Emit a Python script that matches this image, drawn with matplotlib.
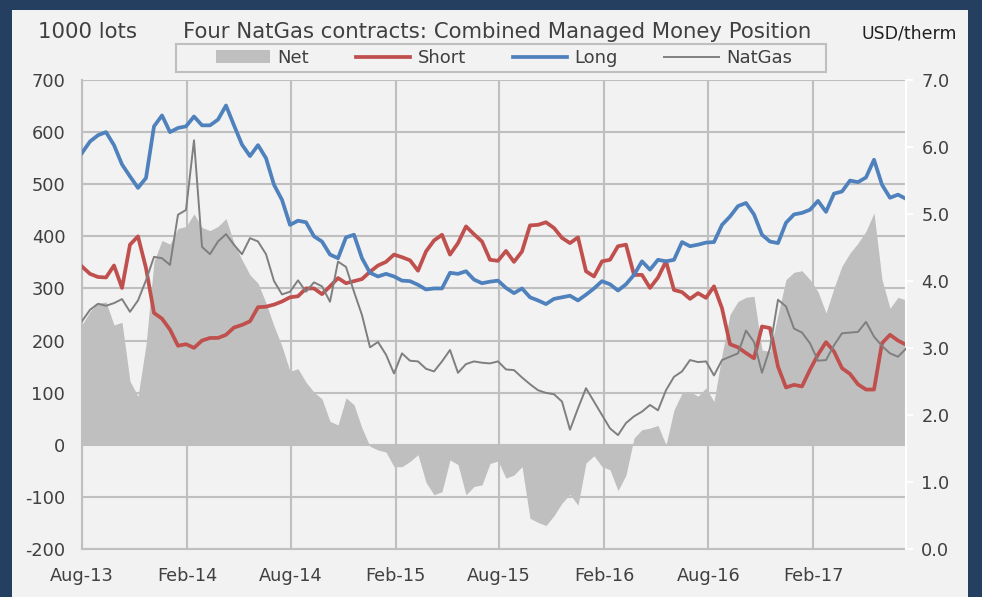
import matplotlib
matplotlib.use('Agg')
import matplotlib.pyplot as plt
import matplotlib.dates as mdates
import matplotlib.ticker as mticker
from matplotlib.patches import Rectangle, Patch
from matplotlib.lines import Line2D
import pandas as pd

plt.rcParams['font.family'] = ['DejaVu Sans']
plt.rcParams['axes.unicode_minus'] = False

# ---- data (1000 lots, USD/therm), fortnightly from Aug-2013 ----
long_pos = [560, 582, 594, 600, 575, 538, 515, 493, 512, 611, 632, 600, 608, 611, 630, 613,
            613, 624, 651, 613, 576, 554, 575, 550, 499, 470, 422, 430, 427, 400, 390, 365,
            358, 398, 403, 358, 330, 323, 328, 323, 315, 314, 307, 298, 300, 300, 330, 328,
            333, 317, 310, 313, 315, 301, 291, 300, 283, 277, 270, 280, 283, 286, 277, 288,
            300, 314, 308, 296, 308, 326, 352, 336, 355, 352, 355, 389, 381, 384, 388, 389,
            422, 438, 458, 464, 442, 403, 390, 387, 426, 442, 445, 451, 468, 447, 482, 486,
            507, 504, 513, 547, 499, 474, 480, 472]
short_pos = [342, 328, 322, 321, 344, 301, 384, 400, 339, 253, 242, 221, 190, 193, 186, 200,
             205, 205, 211, 225, 230, 237, 264, 265, 269, 275, 283, 285, 300, 300, 289, 304,
             320, 310, 314, 318, 332, 344, 351, 365, 360, 354, 334, 371, 392, 403, 365, 387,
             419, 404, 390, 355, 353, 372, 351, 371, 421, 422, 427, 416, 397, 387, 398, 333,
             323, 352, 355, 381, 384, 326, 326, 301, 321, 352, 297, 293, 280, 291, 282, 304,
             262, 193, 187, 176, 166, 227, 224, 150, 110, 115, 112, 144, 173, 197, 179, 147,
             136, 116, 106, 106, 195, 211, 200, 192]
net_pos = [230, 256, 272, 274, 230, 235, 122, 93, 192, 352, 392, 385, 415, 419, 443, 417,
           411, 419, 434, 387, 355, 326, 310, 272, 228, 189, 141, 146, 120, 101, 88, 45,
           38, 90, 77, 32, -3, -10, -14, -42, -42, -32, -19, -72, -96, -90, -29, -38,
           -96, -80, -77, -36, -31, -64, -58, -42, -141, -149, -155, -136, -112, -95, -116, -35,
           -21, -42, -48, -88, -58, 13, 29, 32, 37, 0, 67, 99, 102, 93, 109, 83,
           173, 250, 275, 283, 285, 182, 179, 250, 317, 331, 334, 317, 294, 253, 301, 343,
           368, 387, 410, 445, 317, 262, 283, 278]
natgas = [3.40, 3.57, 3.66, 3.63, 3.67, 3.73, 3.54, 3.71, 4.01, 4.36, 4.34, 4.24, 4.99, 5.06, 6.10, 4.51,
          4.40, 4.59, 4.70, 4.54, 4.40, 4.64, 4.59, 4.40, 4.00, 3.80, 3.84, 4.01, 3.84, 3.98, 3.92, 3.69,
          4.29, 4.21, 3.84, 3.49, 3.01, 3.09, 2.90, 2.62, 2.92, 2.81, 2.80, 2.69, 2.65, 2.80, 2.97, 2.63,
          2.76, 2.80, 2.78, 2.77, 2.80, 2.68, 2.67, 2.56, 2.46, 2.37, 2.33, 2.31, 2.20, 1.78, 2.10, 2.40,
          2.20, 2.00, 1.80, 1.70, 1.88, 1.98, 2.05, 2.15, 2.07, 2.37, 2.57, 2.65, 2.82, 2.79, 2.80, 2.59,
          2.82, 2.87, 2.92, 3.26, 3.09, 2.63, 3.00, 3.72, 3.62, 3.29, 3.23, 3.07, 2.81, 2.82, 3.04, 3.22,
          3.23, 3.24, 3.39, 3.17, 3.03, 2.92, 2.87, 2.99]
dates = pd.date_range('2013-08-01', periods=len(long_pos), freq='14D')

left_ticks = list(range(-200, 701, 100))
right_ticks = [0, 1, 2, 3, 4, 5, 6, 7]

title = 'Four NatGas contracts: Combined Managed Money Position'
left_unit = '1000 lots'
right_unit = 'USD/therm'
series_names = ['Net', 'Short', 'Long', 'NatGas']

NAVY = '#243F60'
PANEL = '#F2F2F2'
GRID = '#BFBFBF'
TXT = '#404040'
C_LONG = '#4F81BD'
C_SHORT = '#C0504D'
C_NET = '#BFBFBF'
C_GAS = '#7F7F7F'

W, H = 982, 597
fig = plt.figure(figsize=(W / 100, H / 100), dpi=100, facecolor=NAVY)
fig.add_artist(Rectangle((12 / W, 0), (968 - 12) / W, (H - 10) / H, transform=fig.transFigure,
                         facecolor=PANEL, edgecolor='none', zorder=-5))

ax = fig.add_axes([82 / W, 1 - 549 / H, (906 - 82) / W, (549 - 80) / H])
ax.set_facecolor(PANEL)
ax.fill_between(dates, 0, net_pos, color=C_NET, lw=0, zorder=2)
ax.plot(dates, short_pos, color=C_SHORT, lw=2.7, zorder=4, solid_joinstyle='round')
ax.plot(dates, long_pos, color=C_LONG, lw=2.7, zorder=4, solid_joinstyle='round')
ax.set_xlim(dates[0], dates[-1])
ax.set_ylim(-200, 700)
ax.set_yticks(left_ticks)
ax.xaxis.set_major_locator(mdates.MonthLocator(bymonth=[2, 8]))
ax.xaxis.set_major_formatter(mdates.DateFormatter('%b-%y'))
ax.set_axisbelow(True)
ax.grid(True, color=GRID, lw=1.5)
for s in ['top', 'right']:
    ax.spines[s].set_visible(False)
for s in ['left', 'bottom']:
    ax.spines[s].set_color(GRID)
    ax.spines[s].set_linewidth(1.5)
ax.tick_params(axis='both', length=0, labelsize=12.8, labelcolor=TXT)
ax.tick_params(axis='y', pad=12)
ax.tick_params(axis='x', pad=13)

ax2 = ax.twinx()
ax2.plot(dates, natgas, color=C_GAS, lw=1.4, zorder=5)
ax2.set_ylim(0, 7)
ax2.set_yticks(right_ticks)
ax2.yaxis.set_major_formatter(mticker.FormatStrFormatter('%.1f'))
for s in ['top', 'left', 'bottom']:
    ax2.spines[s].set_visible(False)
ax2.spines['right'].set_color('white')
ax2.spines['right'].set_linewidth(1.5)
ax2.tick_params(axis='y', direction='out', length=5, width=1.5, color='white',
                labelsize=12.8, labelcolor=TXT, pad=6)
ax2.patch.set_visible(False)

fig.text(38 / W, 1 - 32 / H, left_unit, fontsize=15.3, color=TXT, ha='left', va='center')
fig.text(497 / W, 1 - 32 / H, title, fontsize=15.3, color=TXT, ha='center', va='center')
fig.text(957 / W, 1 - 33 / H, right_unit, fontsize=12.5, color='#202020', ha='right', va='center')

# legend
fig.add_artist(Rectangle((176 / W, 1 - 72 / H), (826 - 176) / W, 28 / H, transform=fig.transFigure,
                         facecolor=PANEL, edgecolor=GRID, lw=1.5, zorder=1))
handles = [Patch(facecolor=C_NET, edgecolor='none'),
           Line2D([], [], color=C_SHORT, lw=2.7),
           Line2D([], [], color=C_LONG, lw=2.7),
           Line2D([], [], color=C_GAS, lw=1.4)]
leg = fig.legend(handles, series_names, loc='center', bbox_to_anchor=(504 / W, 1 - 58 / H),
                 ncol=4, frameon=False, fontsize=13, handlelength=3.0, handletextpad=0.4,
                 columnspacing=2.6, labelcolor=TXT)
leg.set_zorder(2)

fig.savefig('out.png', dpi=100, facecolor=NAVY)
